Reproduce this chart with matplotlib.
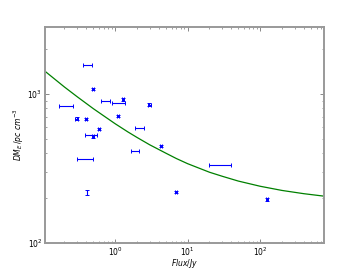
import matplotlib
matplotlib.use("Agg")
import matplotlib.pyplot as plt

# measured bursts: flux (Jy), flux errors, DM_E (pc cm^-3), DM errors
flux = [0.42, 0.50, 0.213, 0.74, 1.11, 1.30, 2.98, 0.296, 0.398, 1.11,
        0.595, 2.14, 0.46, 0.50, 4.31, 1.87, 0.386, 28.1, 0.41, 6.87, 123.6]
flux_lo = [0.06, 0.02, 0.042, 0.106, 0.19, 0.04, 0.10, 0.012, 0.015, 0.04,
           0.022, 0.27, 0.07, 0.02, 0.15, 0.19, 0.087, 8.3, 0.0, 0.25, 4.5]
flux_hi = [0.067, 0.02, 0.053, 0.113, 0.24, 0.04, 0.10, 0.012, 0.015, 0.04,
           0.022, 0.35, 0.10, 0.02, 0.15, 0.25, 0.114, 11.7, 0.0, 0.25, 4.5]
dm = [1567, 1074, 830, 897, 865, 916, 847, 682, 679, 708,
      582, 590, 527, 519, 447, 416, 367, 331, 219, 219, 196]
dm_err = [0, 20, 0, 0, 0, 22, 25, 12, 12, 14,
          11, 0, 0, 10, 9, 0, 0, 0, 9, 4, 4]

# model curve
curve_flux = [0.108, 0.2, 0.3, 0.5, 0.7, 1, 1.5, 2, 3, 5, 7, 10,
              20, 30, 50, 100, 200, 400, 760]
curve_dm = [1415, 1110, 955, 795, 710, 630, 555, 510, 455, 400, 368, 340,
            298, 280, 260, 240, 225, 214, 206]

fig = plt.figure(figsize=(3.6, 2.7), dpi=100)
ax = fig.add_axes([0.125, 0.1, 0.775, 0.8])

ax.plot(curve_flux, curve_dm, color="green", lw=0.9)
ax.errorbar(flux, dm, xerr=[flux_lo, flux_hi], yerr=dm_err, fmt="none",
            ecolor="blue", elinewidth=0.8, capsize=1.5, capthick=0.7)

ax.set_xscale("log")
ax.set_yscale("log")
ax.set_xlim(0.108, 760)
ax.set_ylim(100, 2800)

for s in ax.spines.values():
    s.set_color("0.6")
    s.set_linewidth(1.4)
ax.tick_params(which="both", direction="in", top=True, right=True,
               labelsize=5.5, color="0.35", pad=2)
ax.tick_params(which="major", length=3, width=0.5)
ax.tick_params(which="minor", length=1.5, width=0.4)

ax.set_xlabel(r"$Flux/Jy$", fontsize=5.5)
ax.xaxis.set_label_coords(0.5, -0.065)
ax.set_ylabel(r"$DM_E\,/pc\ cm^{-3}$", fontsize=5.5, labelpad=1)

fig.savefig("out.png", dpi=100)
